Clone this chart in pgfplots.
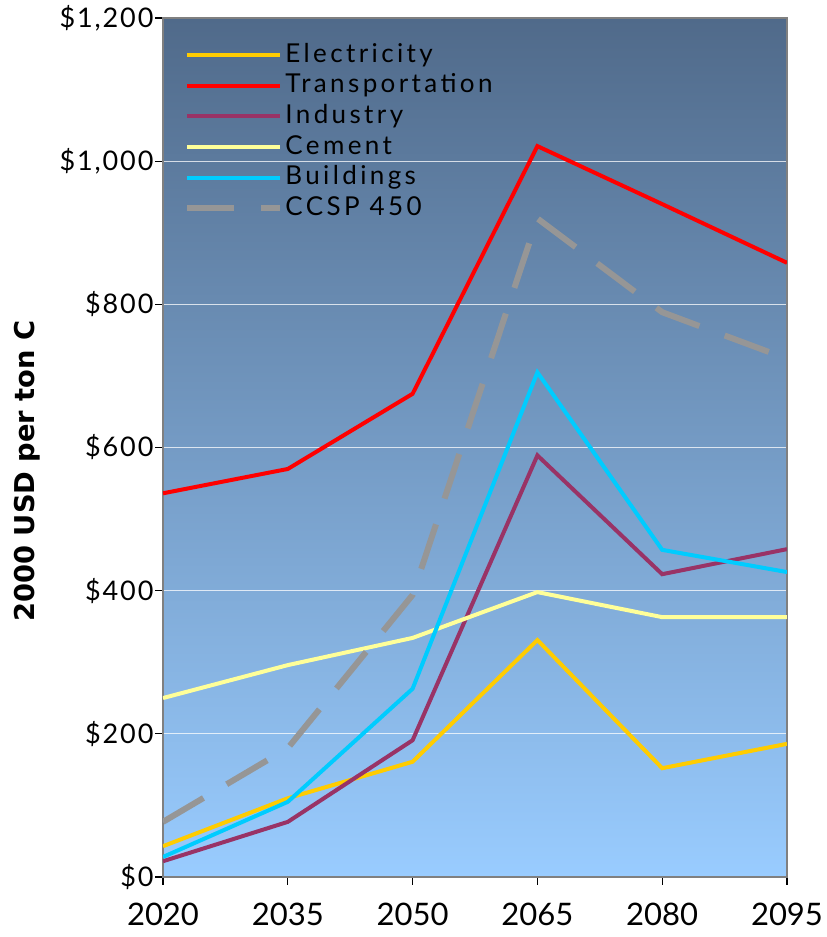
\documentclass[border=0pt]{standalone}
\usepackage{pgfplots}
\pgfplotsset{compat=1.18}
\usepackage{fontspec}
\setmainfont{Lato}
\newfontfamily\legfont[LetterSpace=13]{Lato}
\newfontfamily\ytfont[LetterSpace=7]{Lato}
\newfontfamily\labfont{DejaVu Sans}
\definecolor{elec}{HTML}{FFCC00}
\definecolor{trans}{HTML}{FF0000}
\definecolor{indu}{HTML}{993366}
\definecolor{cem}{HTML}{FFFF99}
\definecolor{bldg}{HTML}{00CCFF}
\definecolor{ccsp}{HTML}{969696}
\definecolor{bgtop}{RGB}{80,106,138}
\definecolor{bgbot}{RGB}{153,204,255}
\begin{document}
\begin{tikzpicture}
\begin{axis}[
  name=ax,
  scale only axis, width=624pt, height=859pt,
  xmin=2020, xmax=2095, ymin=0, ymax=1200,
  xtick={2020,2035,2050,2065,2080,2095},
  xticklabels={2020,2035,2050,2065,2080,2095},
  ytick={0,200,400,600,800,1000,1200},
  yticklabels={{\$0},{\$200},{\$400},{\$600},{\$800},{\$1,000},{\$1,200}},
  tick align=outside, tick pos=left, major tick length=8pt,
  every tick/.style={black, line width=1.2pt},
  axis line style={draw=gray, line width=2pt},
  ymajorgrids, grid style={white, opacity=0.75, line width=1pt},
  axis background/.style={top color=bgtop, bottom color=bgbot},
  xticklabel style={font=\fontsize{31}{36}\selectfont, yshift=-15pt},
  yticklabel style={font=\ytfont\fontsize{27}{32}\selectfont, xshift=2pt},
  ylabel={2000 USD per ton C},
  every axis y label/.style={at={(axis description cs:-0.218,0.4727)}, rotate=90, anchor=center, font=\labfont\bfseries\fontsize{27.3}{32}\selectfont},
  legend image code/.code={\draw[#1] (0pt,0pt) -- (93pt,0pt);},
  legend cell align=left,
  legend style={at={(axis description cs:0.034,0.972)}, anchor=north west, draw=none, fill=none, inner sep=0pt, row sep=4.6pt, column sep=2pt, font=\legfont\fontsize{26}{30}\selectfont, nodes={inner sep=0pt, text height=20pt, text depth=6pt}},
]
\addplot[elec, line width=4pt] coordinates {(2020,43) (2035,110) (2050,161) (2065,331) (2080,152) (2095,186)};
\addlegendentry{Electricity}
\addplot[trans, line width=4pt] coordinates {(2020,536) (2035,570) (2050,675) (2065,1021) (2080,940) (2095,858)};
\addlegendentry{Transportation}
\addplot[indu, line width=4pt] coordinates {(2020,22) (2035,77) (2050,191) (2065,589) (2080,423) (2095,458)};
\addlegendentry{Industry}
\addplot[cem, line width=4pt] coordinates {(2020,250) (2035,296) (2050,334) (2065,398) (2080,363) (2095,363)};
\addlegendentry{Cement}
\addplot[bldg, line width=4pt] coordinates {(2020,28) (2035,105) (2050,263) (2065,705) (2080,457) (2095,426)};
\addlegendentry{Buildings}
\addplot[ccsp, line width=6pt, dash pattern=on 47pt off 27pt] coordinates {(2020,77) (2035,180) (2050,394) (2065,920) (2080,789) (2095,724)};
\addlegendentry{CCSP 450}
\end{axis}
\path (ax.south west) ++(-163pt,-60pt);
\path (ax.north east) ++(38pt,18pt);
\end{tikzpicture}
\end{document}
